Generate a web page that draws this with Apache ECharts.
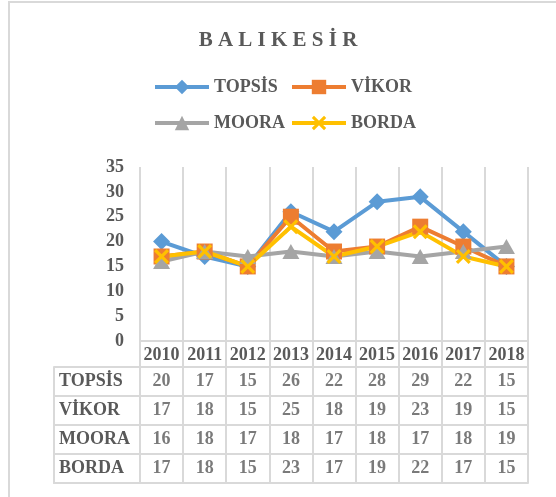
<!DOCTYPE html>
<html><head><meta charset="utf-8">
<script src="https://cdn.jsdelivr.net/npm/echarts@6/dist/echarts.min.js"></script>
<style>html,body{margin:0;padding:0;background:#fff}#c{width:556px;height:497px}</style>
</head><body><div id="c"></div>
<script>
const years = ['2010','2011','2012','2013','2014','2015','2016','2017','2018'];
const seriesNames = ['TOPSİS','VİKOR','MOORA','BORDA'];
const topsis = [20,17,15,26,22,28,29,22,15];
const vikor  = [17,18,15,25,18,19,23,19,15];
const moora  = [16,18,17,18,17,18,17,18,19];
const borda  = [17,18,15,23,17,19,22,17,15];
const seriesValues = [topsis, vikor, moora, borda];
const yMin = 0, yMax = 35, yStep = 5;

const FONT = 'Liberation Serif';
const TXT = '#595959';
const GRID = '#d9d9d9';
const colors = ['#5B9BD5','#ED7D31','#A5A5A5','#FFC000'];
const xPath = 'path://M0,1.5 L1.5,0 L5,3.5 L8.5,0 L10,1.5 L6.5,5 L10,8.5 L8.5,10 L5,6.5 L1.5,10 L0,8.5 L3.5,5 Z';
const symbols = ['diamond','rect','triangle', xPath];
const symSizes = [[17,17],[16,16],[17,15],[15,15]];

const cells = [];
seriesValues.forEach((arr, r) => arr.forEach((v, c) => cells.push([c, r, v])));

const lineSeries = seriesNames.map((n, i) => ({
  name: n, type: 'line', xAxisIndex: 0, yAxisIndex: 0,
  data: seriesValues[i],
  symbol: symbols[i], symbolSize: symSizes[i],
  lineStyle: { color: colors[i], width: 4 },
  itemStyle: { color: colors[i] },
  animation: false
}));

const legendCommon = {
  orient: 'vertical', top: 78, padding: 0, itemWidth: 54, itemHeight: 18, itemGap: 18,
  lineStyle: { width: 4 },
  textStyle: { fontFamily: FONT, fontSize: 18, fontWeight: 'bold', color: TXT }
};

const chart = echarts.init(document.getElementById('c'), null, { renderer: 'canvas' });
chart.setOption({
  animation: false,
  textStyle: { fontFamily: FONT },
  title: {
    text: 'B A L I K E S İ R', left: 'center', top: 25,
    textStyle: { fontFamily: FONT, fontSize: 21, fontWeight: 'bold', color: TXT }
  },
  graphic: [{
    type: 'rect', shape: { x: 9, y: 2, width: 800, height: 800 },
    style: { fill: 'none', stroke: GRID, lineWidth: 2 }, silent: true
  }],
  legend: [
    Object.assign({ data: ['TOPSİS','MOORA'], left: 153 }, legendCommon),
    Object.assign({ data: ['VİKOR','BORDA'], left: 290 }, legendCommon)
  ],
  grid: [
    { left: 140, right: 28, top: 167, bottom: 156 },
    { left: 140, right: 28, top: 367, bottom: 14 },
    { left: 54, width: 86, top: 367, bottom: 14 }
  ],
  xAxis: [
    { type: 'category', gridIndex: 0, data: years, boundaryGap: true,
      axisLine: { show: true, lineStyle: { color: GRID, width: 2 } },
      axisTick: { show: true, interval: 0, length: 26, lineStyle: { color: GRID, width: 2 } },
      axisLabel: { interval: 0, margin: 5, fontFamily: FONT, fontSize: 18, fontWeight: 'bold', color: TXT },
      splitLine: { show: true, interval: 0, lineStyle: { color: GRID, width: 2 } } },
    { type: 'category', gridIndex: 1, data: years, boundaryGap: true,
      axisLine: { show: true, lineStyle: { color: GRID, width: 2 } },
      axisTick: { show: false }, axisLabel: { show: false },
      splitLine: { show: true, interval: 0, lineStyle: { color: GRID, width: 2 } } },
    { type: 'category', gridIndex: 2, data: [''], boundaryGap: true,
      axisLine: { show: true, lineStyle: { color: GRID, width: 2 } },
      axisTick: { show: false }, axisLabel: { show: false },
      splitLine: { show: true, interval: 0, lineStyle: { color: GRID, width: 2 } } }
  ],
  yAxis: [
    { type: 'value', gridIndex: 0, min: yMin, max: yMax, interval: yStep,
      axisLine: { show: false }, axisTick: { show: false }, splitLine: { show: false },
      axisLabel: { margin: 16, fontFamily: FONT, fontSize: 18, fontWeight: 'bold', color: TXT } },
    { type: 'category', gridIndex: 1, data: seriesNames, inverse: true, boundaryGap: true,
      axisLine: { show: false }, axisTick: { show: false }, axisLabel: { show: false },
      splitLine: { show: true, interval: 0, lineStyle: { color: GRID, width: 2 } } },
    { type: 'category', gridIndex: 2, data: seriesNames, inverse: true, boundaryGap: true,
      axisLine: { show: true, lineStyle: { color: GRID, width: 2 } }, axisTick: { show: false },
      axisLabel: { inside: true, interval: 0, margin: 5, fontFamily: FONT, fontSize: 18, fontWeight: 'bold', color: TXT },
      splitLine: { show: true, interval: 0, lineStyle: { color: GRID, width: 2 } } }
  ],
  series: lineSeries.concat([{
    type: 'scatter', xAxisIndex: 1, yAxisIndex: 1, data: cells,
    symbolSize: 1, itemStyle: { color: 'rgba(0,0,0,0)' },
    label: { show: true, position: 'inside', formatter: p => p.value[2],
      fontFamily: FONT, fontSize: 18, fontWeight: 'bold', color: TXT },
    silent: true
  }])
});
</script></body></html>
